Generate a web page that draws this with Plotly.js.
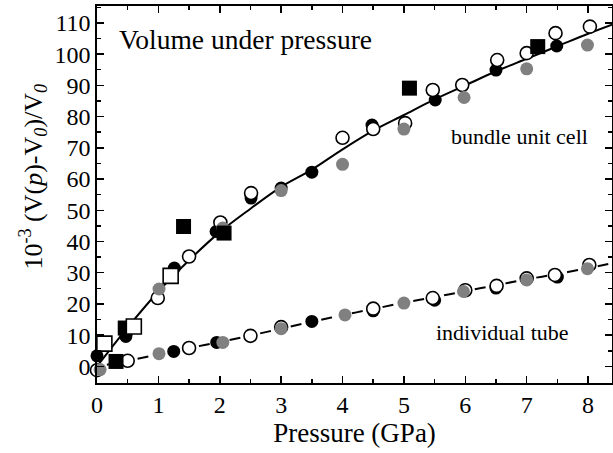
<!DOCTYPE html>
<html>
<head>
<meta charset="utf-8">
<script src="https://cdn.plot.ly/plotly-3.0.1.min.js"></script>
<style>html,body{margin:0;padding:0;background:#fff;}#chart{width:613px;height:453px;}</style>
</head>
<body>
<div id="chart"></div>
<script>
// Bundle unit cell (upper curve)
const bundleFitP = [0, 0.5, 1, 1.5, 2, 2.5, 3, 3.5, 4, 4.5, 5, 5.5, 6, 6.5, 7, 7.5, 8, 8.39];
const bundleFitV = [0, 12.5, 24, 34, 43, 50.5, 57.5, 63, 69.5, 75.5, 80.5, 85.5, 90, 94.5, 98.5, 102.5, 106.5, 109.4];
const bundleBlackP = [0, 0.47, 1.26, 1.94, 2.51, 3.0, 3.5, 4.48, 5.51, 6.5, 7.49];
const bundleBlackV = [3.4, 9.6, 31.5, 43.2, 53.9, 57.1, 62.2, 77.3, 85.3, 94.9, 102.6];
const bundleOpenP = [0, 0.99, 1.5, 2.01, 2.51, 4.0, 4.5, 5.02, 5.47, 5.95, 6.52, 7.0, 7.47, 8.03];
const bundleOpenV = [-1.2, 21.9, 35.2, 46.1, 55.5, 73.2, 76.0, 77.9, 88.5, 90.1, 98.1, 100.3, 106.7, 108.8];
const bundleGrayP = [0.05, 1.01, 2.05, 3.0, 4.0, 5.0, 5.98, 7.0, 7.99];
const bundleGrayV = [-1.0, 24.8, 44.3, 56.3, 64.7, 76.0, 86.1, 95.3, 102.9];
const bundleSqBlackP = [0.31, 0.46, 1.41, 2.07, 5.09, 7.18];
const bundleSqBlackV = [1.6, 12.3, 44.8, 42.7, 89.1, 102.4];
const bundleSqOpenP = [-0.02, 0.12, 0.6, 1.2];
const bundleSqOpenV = [0, 7.3, 12.8, 29.0];

// Individual tube (lower curve)
const tubeFitP = [0, 0.5, 1, 1.5, 2, 2.5, 3, 3.5, 4, 4.5, 5, 5.5, 6, 6.5, 7, 7.5, 8, 8.39];
const tubeFitV = [0, 1.8, 3.9, 5.9, 7.8, 9.9, 12.1, 14.3, 16.4, 18.4, 20.4, 22.2, 24.1, 26.0, 27.9, 29.6, 31.5, 33.0];
const tubeBlackP = [1.25, 1.95, 3.5, 4.5, 5.5, 6.5, 7.5];
const tubeBlackV = [4.8, 7.7, 14.4, 17.8, 21.2, 25.1, 28.6];
const tubeOpenP = [0.5, 1.5, 2.5, 3.0, 4.5, 5.47, 6.0, 6.51, 7.0, 7.46, 8.02];
const tubeOpenV = [1.8, 5.9, 9.8, 12.6, 18.5, 21.9, 24.4, 25.8, 28.2, 29.3, 32.5];
const tubeGrayP = [1.01, 2.05, 3.0, 4.04, 5.0, 5.97, 7.0, 7.99];
const tubeGrayV = [4.1, 7.7, 12.1, 16.5, 20.3, 24.0, 27.7, 31.3];

const xTicks = [0, 1, 2, 3, 4, 5, 6, 7, 8];
const yTicks = [0, 10, 20, 30, 40, 50, 60, 70, 80, 90, 100, 110];

function pts(x, y, marker) {
  return {x: x, y: y, type: 'scatter', mode: 'markers', marker: marker, cliponaxis: false, hoverinfo: 'skip', showlegend: false};
}
const blackC = {symbol: 'circle', size: 13, color: '#000', line: {width: 0}};
const openC = {symbol: 'circle', size: 13, color: '#fff', line: {width: 1.6, color: '#000'}};
const grayC = {symbol: 'circle', size: 13, color: '#808080', line: {width: 0}};
const blackS = {symbol: 'square', size: 15, color: '#000', line: {width: 0}};
const openS = {symbol: 'square', size: 15, color: '#fff', line: {width: 1.6, color: '#000'}};

const data = [
  {x: bundleFitP, y: bundleFitV, type: 'scatter', mode: 'lines', line: {color: '#000', width: 2, shape: 'spline'}, hoverinfo: 'skip', showlegend: false},
  {x: tubeFitP, y: tubeFitV, type: 'scatter', mode: 'lines', line: {color: '#000', width: 2, shape: 'spline', dash: '0px,10px,11px,10.3px'}, hoverinfo: 'skip', showlegend: false},
  pts(bundleBlackP, bundleBlackV, blackC),
  pts(tubeBlackP, tubeBlackV, blackC),
  pts(bundleOpenP, bundleOpenV, openC),
  pts(tubeOpenP, tubeOpenV, openC),
  pts(bundleGrayP, bundleGrayV, grayC),
  pts(tubeGrayP, tubeGrayV, grayC),
  pts(bundleSqBlackP, bundleSqBlackV, blackS),
  pts(bundleSqOpenP, bundleSqOpenV, openS)
];

const layout = {
  width: 613, height: 453,
  margin: {l: 97, r: 1, t: 6, b: 70},
  paper_bgcolor: '#fff', plot_bgcolor: '#fff',
  font: {family: 'Liberation Serif', size: 24, color: '#000'},
  xaxis: {
    showline: true, linecolor: '#000', linewidth: 1.6, mirror: 'ticks',
    ticks: 'inside', ticklen: 7, tickwidth: 1.5, tickcolor: '#000',
    showgrid: false, zeroline: false,
    tickfont: {family: 'Liberation Serif', size: 24, color: '#000'},
    range: [0, 8.39], tickvals: xTicks,
    minor: {ticks: 'inside', dtick: 0.5, ticklen: 4, tickwidth: 1.5, tickcolor: '#000'},
    title: {text: 'Pressure (GPa)', font: {family: 'Liberation Serif', size: 27, color: '#000'}, standoff: 2}
  },
  yaxis: {
    showline: true, linecolor: '#000', linewidth: 1.6, mirror: 'ticks',
    ticks: 'inside', ticklen: 7, tickwidth: 1.5, tickcolor: '#000',
    showgrid: false, zeroline: false,
    tickfont: {family: 'Liberation Serif', size: 24, color: '#000'},
    range: [-5.3, 115.4], tickvals: yTicks,
    minor: {ticks: 'inside', dtick: 5, ticklen: 4, tickwidth: 1.5, tickcolor: '#000'}
  },
  annotations: [
    {xref: 'paper', yref: 'paper', x: -0.124, y: 0.548, xanchor: 'center', yanchor: 'middle', textangle: -90, showarrow: false,
     text: '10<sup>-3</sup> (V(<i>p</i>)-V<sub><i>0</i></sub>)/V<sub><i>0</i></sub>', font: {family: 'Liberation Serif', size: 26, color: '#000'}},
    {xref: 'paper', yref: 'paper', x: 0.039, y: 0.910, xanchor: 'left', yanchor: 'middle', showarrow: false,
     text: 'Volume under pressure', font: {family: 'Liberation Serif', size: 27.5, color: '#000'}},
    {xref: 'paper', yref: 'paper', x: 0.683, y: 0.653, xanchor: 'left', yanchor: 'middle', showarrow: false,
     text: 'bundle unit cell', font: {family: 'Liberation Serif', size: 22, color: '#000'}},
    {xref: 'paper', yref: 'paper', x: 0.654, y: 0.135, xanchor: 'left', yanchor: 'middle', showarrow: false,
     text: 'individual tube', font: {family: 'Liberation Serif', size: 22, color: '#000'}}
  ]
};

Plotly.newPlot('chart', data, layout, {displayModeBar: false, staticPlot: true});
</script>
</body>
</html>
